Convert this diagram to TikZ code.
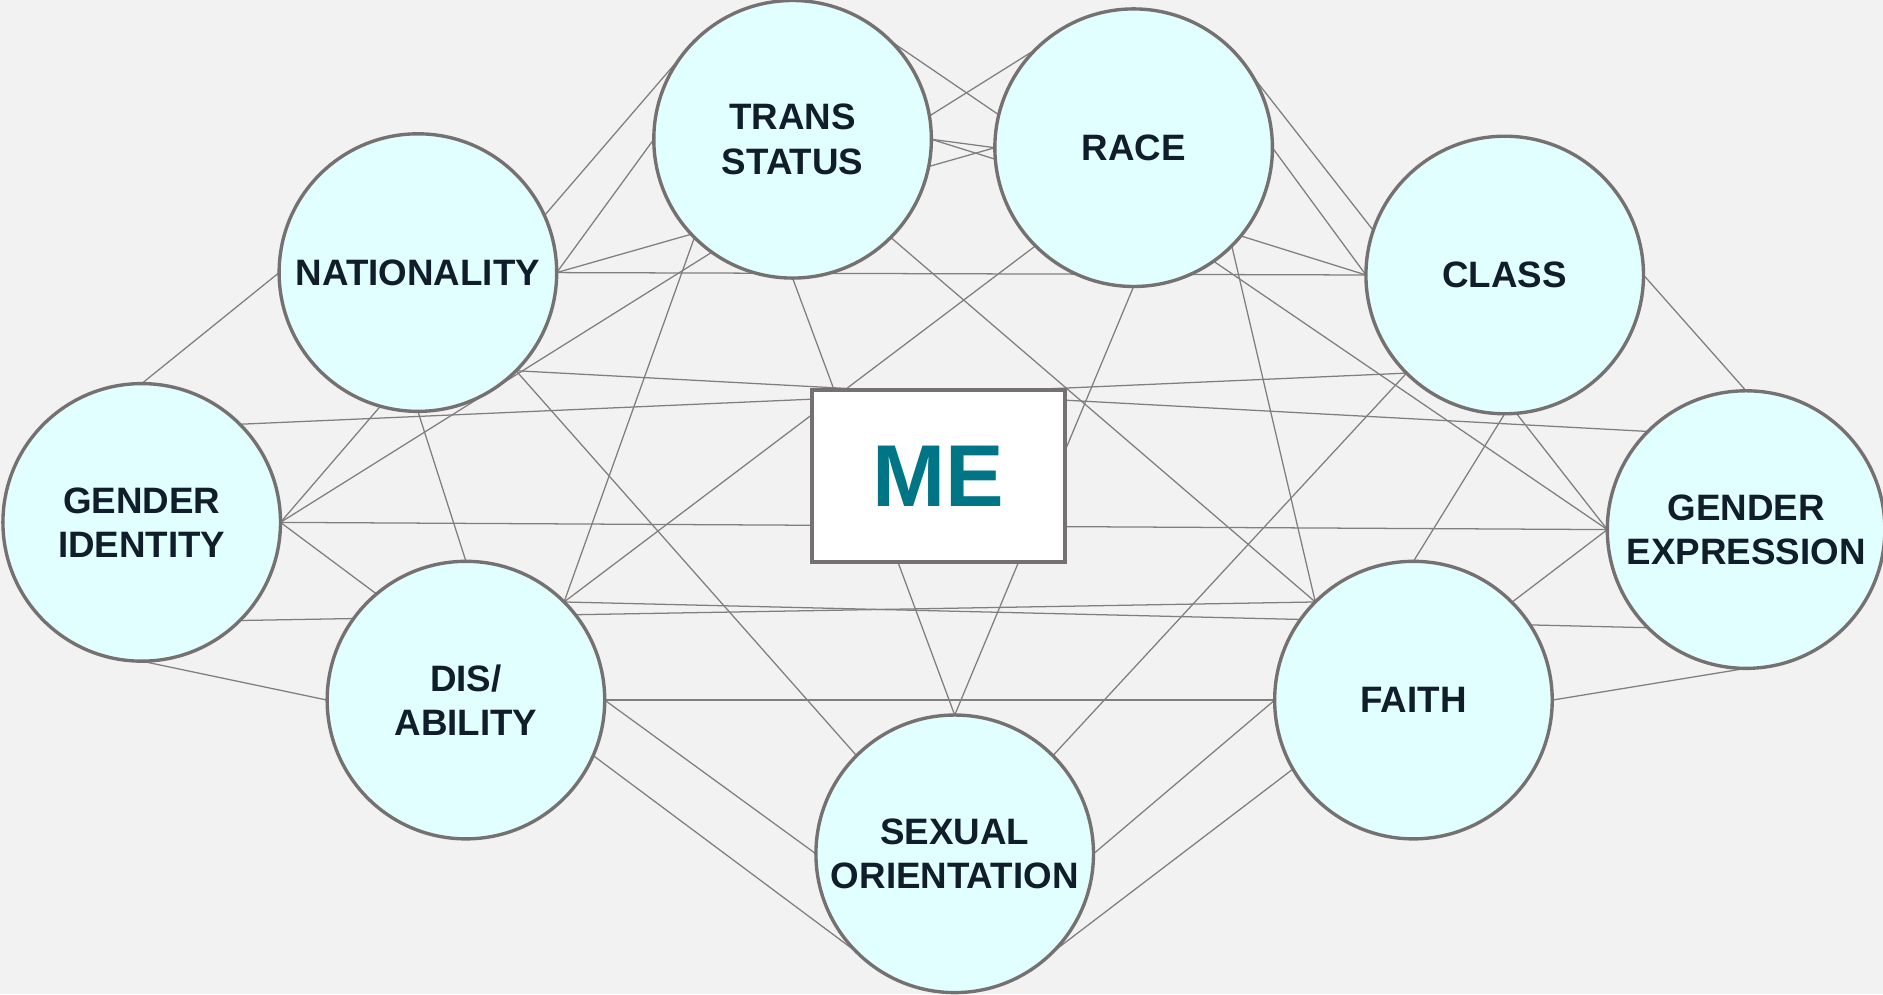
\documentclass[tikz,border=0pt]{standalone}
\usepackage{fontspec}
\setmainfont{Liberation Sans}
\definecolor{bgcol}{HTML}{F2F2F2}
\definecolor{idfill}{HTML}{E1FFFF}
\definecolor{rimgray}{HTML}{767171}
\definecolor{linegray}{HTML}{7F7F7F}
\definecolor{inkblue}{HTML}{101D2B}
\definecolor{meteal}{HTML}{007585}
\pgfdeclarelayer{back}
\pgfsetlayers{back,main}
\tikzset{idty/.style={circle, draw=rimgray, line width=.8pt, fill=idfill, minimum size=2.31cm,
  inner sep=0pt, outer sep=0pt, align=center, text=inkblue,
  font=\fontsize{8.7}{10.5}\selectfont\bfseries}}
\tikzset{mebox/.style={rectangle, draw=rimgray, line width=.9pt, fill=white, minimum width=2.11cm,
  minimum height=1.43cm, inner sep=0pt, outer sep=0pt, text=meteal,
  font=\fontsize{20.8}{24}\selectfont\bfseries}}
\tikzset{link/.style={color=linegray, line width=.3pt}}
\begin{document}
\begin{tikzpicture}[x=0.01cm, y=-0.01cm]
  \useasboundingbox (0,0) rectangle (1568,828);

  % identities
  \node[idty] (ts) at (660,116) {TRANS\\STATUS};
  \node[idty] (race) at (944,123) {RACE};
  \node[idty] (nat) at (348,227) {NATIONALITY};
  \node[idty] (class) at (1253,229) {CLASS};
  \node[idty] (gi) at (118,435) {GENDER\\IDENTITY};
  \node[idty] (ge) at (1454,441) {GENDER\\EXPRESSION};
  \node[idty] (dis) at (388,583) {DIS/\\ABILITY};
  \node[idty] (faith) at (1177,583) {FAITH};
  \node[idty] (so) at (795,711) {SEXUAL\\ORIENTATION};
  \node[mebox] (me) at (781.5,396.5) {ME};

  \begin{pgfonlayer}{back}
    \fill[bgcol] (0,0) rectangle (1568,828);

    \draw[link] (gi.north) -- (nat.west);
    \draw[link] (gi.east) -- (ts.north west);
    \draw[link] (gi.east) -- (race.north west);
    \draw[link] (gi.east) -- (ge.west);
    \draw[link] (gi.east) -- (so.south west);
    \draw[link] (gi.north east) -- (class.south west);
    \draw[link] (gi.south east) -- (faith.north west);
    \draw[link] (gi.south) -- (dis.west);

    \draw[link] (nat.east) -- (ts.west);
    \draw[link] (nat.east) -- (race.west);
    \draw[link] (nat.east) -- (class.west);
    \draw[link] (nat.south east) -- (ge.north west);
    \draw[link] (nat.south east) -- (so.north west);
    \draw[link] (nat.south) -- (dis.north);

    \draw[link] (ts.east) -- (race.west);
    \draw[link] (ts.east) -- (class.west);
    \draw[link] (ts.north east) -- (ge.west);
    \draw[link] (ts.south) -- (so.north);
    \draw[link] (ts.south east) -- (faith.north west);
    \draw[link] (ts.south west) -- (dis.north east);

    \draw[link] (race.east) -- (class.west);
    \draw[link] (race.north east) -- (ge.west);
    \draw[link] (race.south) -- (so.north);
    \draw[link] (race.south west) -- (dis.north east);
    \draw[link] (race.south east) -- (faith.north west);

    \draw[link] (class.east) -- (ge.north);
    \draw[link] (class.south west) -- (so.north east);
    \draw[link] (class.south) -- (faith.north);

    \draw[link] (ge.south west) -- (dis.north east);
    \draw[link] (ge.south) -- (faith.east);
    \draw[link] (ge.west) -- (so.south east);

    \draw[link] (dis.east) -- (faith.west);
    \draw[link] (dis.east) -- (so.west);
    \draw[link] (faith.west) -- (so.east);
  \end{pgfonlayer}
\end{tikzpicture}
\end{document}
